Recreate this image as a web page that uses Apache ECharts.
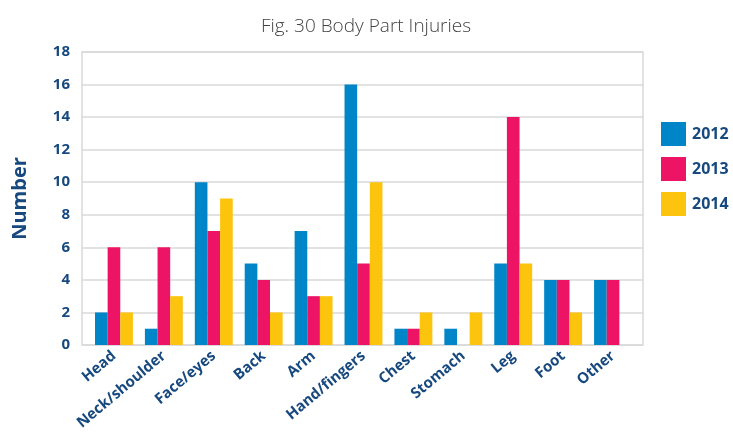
<!DOCTYPE html>
<html>
<head>
<meta charset="utf-8">
<script src="https://cdn.jsdelivr.net/npm/echarts@6/dist/echarts.min.js"></script>
<style>
html,body{margin:0;padding:0;background:#fff;}
#chart{width:733px;height:435px;}
</style>
</head>
<body>
<div id="chart"></div>
<script>
// 身体部位受伤统计
var categories = ['Head', 'Neck/shoulder', 'Face/eyes', 'Back', 'Arm', 'Hand/fingers', 'Chest', 'Stomach', 'Leg', 'Foot', 'Other'];
var years = ['2012', '2013', '2014'];
var values2012 = [2, 1, 10, 5, 7, 16, 1, 1, 5, 4, 4];
var values2013 = [6, 6, 7, 4, 3, 5, 1, 0, 14, 4, 4];
var values2014 = [2, 3, 9, 2, 3, 10, 2, 2, 5, 2, 0];
var colors = ['#0085c8', '#ee1465', '#fdc40e'];

var labelColor = '#17497f';
var font = '"Open Sans", "Noto Sans", sans-serif';

var seriesData = [values2012, values2013, values2014];
var series = [];
for (var i = 0; i < years.length; i++) {
	series.push({
		name: years[i],
		type: 'bar',
		xAxisIndex: 1,
		yAxisIndex: 1,
		barGap: 0,
		barCategoryGap: '24%',
		itemStyle: { color: colors[i] },
		data: seriesData[i]
	});
}

var myChart = echarts.init(document.getElementById('chart'));
myChart.setOption({
	animation: false,
	color: colors,
	title: {
		text: 'Fig. 30 Body Part Injuries',
		left: 361,
		textAlign: 'center',
		top: 12,
		textStyle: { color: '#444', fontSize: 19, fontWeight: 300, fontFamily: font }
	},
	legend: {
		orient: 'vertical',
		left: 661,
		top: 122,
		padding: 0,
		itemWidth: 25,
		itemHeight: 24,
		itemGap: 11,
		icon: 'rect',
		textStyle: { color: labelColor, fontSize: 16, fontWeight: 'bold', fontFamily: font, padding: [0, 0, 0, 1] },
		data: years
	},
	// 外框和网格线用grid0，柱子用grid1(左右有内边距)
	grid: [{
		left: 82,
		right: 90,
		top: 52,
		bottom: 90,
		show: true,
		borderColor: '#d9d9d9',
		borderWidth: 1.5
	}, {
		left: 89,
		right: 95,
		top: 52,
		bottom: 90
	}],
	xAxis: [{
		type: 'category',
		gridIndex: 0,
		data: categories,
		show: false
	}, {
		type: 'category',
		gridIndex: 1,
		data: categories,
		axisLine: { show: false },
		axisTick: { show: false },
		axisLabel: {
			interval: 0,
			rotate: 40,
			margin: 9,
			color: labelColor,
			fontSize: 15,
			fontWeight: 'bold',
			fontFamily: font
		}
	}],
	yAxis: [{
		type: 'value',
		gridIndex: 0,
		min: 0,
		max: 18,
		interval: 2,
		name: 'Number',
		nameLocation: 'middle',
		nameGap: 52,
		nameTextStyle: { color: labelColor, fontSize: 20, fontWeight: 'bold', fontFamily: font },
		axisLine: { show: false },
		axisTick: { show: false },
		splitLine: { lineStyle: { color: '#d9d9d9', width: 1.5 } },
		axisLabel: {
			margin: 12,
			color: labelColor,
			fontSize: 15,
			fontWeight: 'bold',
			fontFamily: font
		}
	}, {
		type: 'value',
		gridIndex: 1,
		min: 0,
		max: 18,
		interval: 2,
		show: false
	}],
	series: series
});
</script>
</body>
</html>
